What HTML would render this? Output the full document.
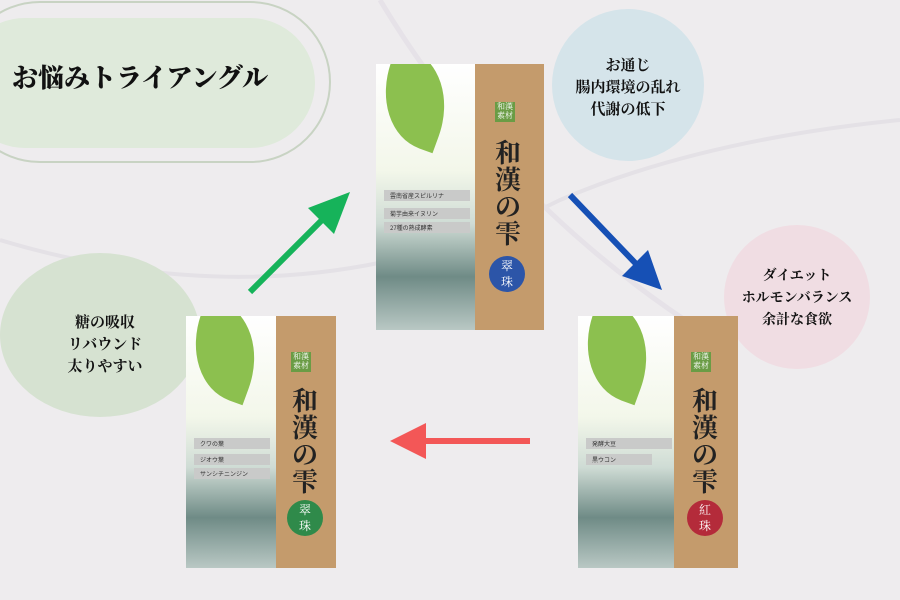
<!DOCTYPE html>
<html><head><meta charset="utf-8"><style>
body{margin:0;width:900px;height:600px;background:#eeecee;overflow:hidden;position:relative;font-family:"Liberation Serif","Noto Serif CJK SC",serif}
.a{position:absolute}
.t{font-weight:bold;color:#111;text-align:center;font-size:15px;line-height:22px}
.box{position:absolute;background:linear-gradient(#fff 0%,#f3f7ea 40%,#cfdcd5 60%,#6f8b86 80%,#b9c8c4 100%);overflow:hidden}
.tan{position:absolute;top:0;bottom:0;right:0;background:#c49b6c}
.leaf{position:absolute;left:4px;top:-10px;width:70px;height:90px;background:#8cc04f;border-radius:0 80% 0 80%;transform:rotate(20deg)}
.lab{position:absolute;left:8px;height:11px;background:#c9cac9;font-size:6px;line-height:11px;padding-left:6px;color:#333;font-family:"Noto Sans CJK JP",sans-serif}
.title{position:absolute;font-size:26px;line-height:27px;color:#222;width:30px;text-align:center;font-weight:bold}
.seal{position:absolute;width:36px;height:36px;border-radius:50%;color:#fff;font-size:12px;text-align:center;line-height:16px;padding-top:2px;box-sizing:border-box}
.wk{position:absolute;background:#6a9c45;color:#fff;font-size:8px;line-height:9px;width:20px;height:20px;text-align:center}
</style></head><body>
<svg class="a" style="left:0;top:0" width="900" height="600">
<path d="M0 240 Q300 330 560 200 Q700 140 900 120" stroke="#e4e1e6" stroke-width="4" fill="none"/>
<path d="M380 0 Q500 200 700 330" stroke="#e6e2e8" stroke-width="5" fill="none"/>
<rect x="-40" y="2" width="370" height="160" rx="80" fill="none" stroke="#c8d3c3" stroke-width="2"/>
<rect x="-40" y="18" width="355" height="130" rx="65" fill="#dfeadb"/>
<circle cx="628" cy="85" r="76" fill="#d5e4ea"/>
<ellipse cx="797" cy="297" rx="73" ry="72" fill="#f0dde3"/>
<ellipse cx="100" cy="335" rx="100" ry="82" fill="#d6e2d1"/>
<line x1="250" y1="292" x2="330" y2="212" stroke="#16b35a" stroke-width="6"/>
<polygon points="350,192 308,208 334,234" fill="#16b35a"/>
<line x1="570" y1="195" x2="640" y2="268" stroke="#1650b5" stroke-width="6"/>
<polygon points="662,290 622,276 648,250" fill="#1650b5"/>
<line x1="530" y1="441" x2="420" y2="441" stroke="#f35757" stroke-width="6"/>
<polygon points="390,441 426,423 426,459" fill="#f35757"/>
</svg>
<div class="a t" style="left:12px;top:62px;font-size:26px;line-height:34px;font-weight:900">お悩みトライアングル</div>
<div class="a t" style="left:553px;top:55px;width:150px">お通じ<br>腸内環境の乱れ<br>代謝の低下</div>
<div class="a t" style="left:722px;top:266px;width:150px;font-size:14px">ダイエット<br>ホルモンバランス<br>余計な食欲</div>
<div class="a t" style="left:30px;top:312px;width:150px">糖の吸収<br>リバウンド<br>太りやすい</div>

<div class="box" style="left:376px;top:64px;width:168px;height:266px">
<div class="leaf"></div>
<div class="lab" style="top:126px;width:80px">雲南省産スピルリナ</div>
<div class="lab" style="top:144px;width:80px">菊芋由来イヌリン</div>
<div class="lab" style="top:158px;width:80px">27種の熟成酵素</div>
<div class="tan" style="width:69px"><div class="wk" style="left:20px;top:38px">和漢素材</div>
<div class="title" style="left:18px;top:76px">和<br>漢<br>の<br>雫</div>
<div class="seal" style="left:14px;top:192px;background:#2c55a8">翠<br>珠</div></div>
</div>
<div class="box" style="left:186px;top:316px;width:150px;height:252px">
<div class="leaf"></div>
<div class="lab" style="top:122px;width:70px">クワの葉</div>
<div class="lab" style="top:138px;width:70px">ジオウ葉</div>
<div class="lab" style="top:152px;width:70px">サンシチニンジン</div>
<div class="tan" style="width:60px"><div class="wk" style="left:15px;top:36px">和漢素材</div>
<div class="title" style="left:14px;top:72px">和<br>漢<br>の<br>雫</div>
<div class="seal" style="left:11px;top:184px;background:#2f8a4a">翠<br>珠</div></div>
</div>
<div class="box" style="left:578px;top:316px;width:160px;height:252px">
<div class="leaf"></div>
<div class="lab" style="top:122px;width:80px">発酵大豆</div>
<div class="lab" style="top:138px;width:60px">黒ウコン</div>
<div class="tan" style="width:64px"><div class="wk" style="left:17px;top:36px">和漢素材</div>
<div class="title" style="left:16px;top:72px">和<br>漢<br>の<br>雫</div>
<div class="seal" style="left:13px;top:184px;background:#b42b3a">紅<br>珠</div></div>
</div>
</body></html>
